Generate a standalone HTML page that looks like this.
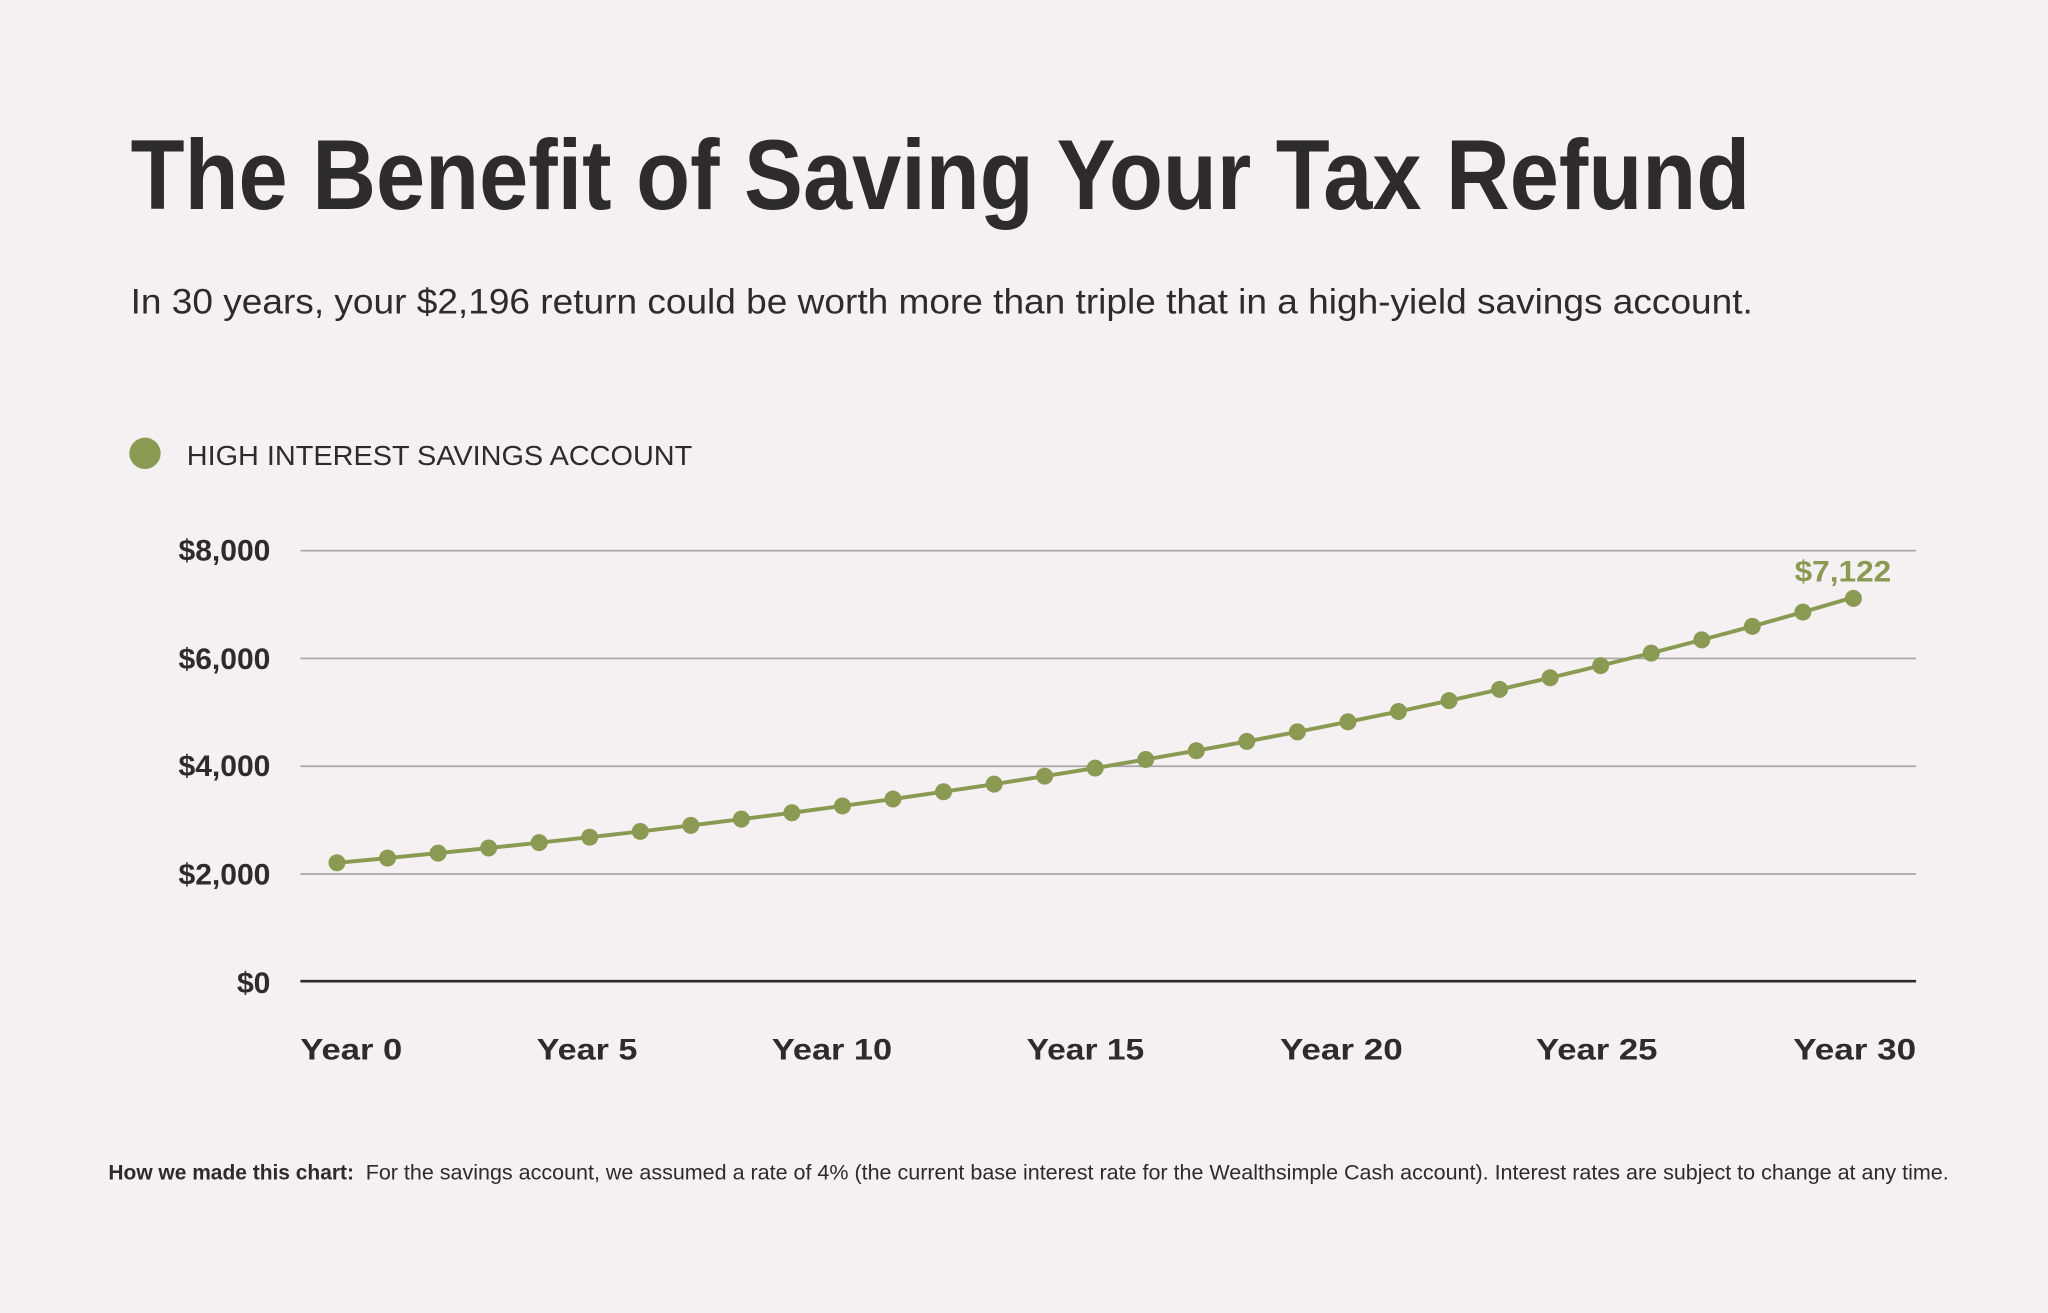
<!DOCTYPE html>
<html><head><meta charset="utf-8"><style>
html,body{margin:0;padding:0;background:#f5f0f1;}
svg{display:block;}
text{font-family:"Liberation Sans",sans-serif;}
</style></head><body>
<svg width="2048" height="1313" viewBox="0 0 1568 1005" preserveAspectRatio="none" xmlns="http://www.w3.org/2000/svg">
<rect width="1568" height="1005" fill="#f5f0f1"/>
<text x="100" y="160" font-size="76" font-weight="bold" fill="#2e2b2b" textLength="1240" lengthAdjust="spacingAndGlyphs">The Benefit of Saving Your Tax Refund</text>
<text x="100" y="240" font-size="27" fill="#2e2b2b" textLength="1242" lengthAdjust="spacingAndGlyphs">In 30 years, your $2,196 return could be worth more than triple that in a high-yield savings account.</text>
<circle cx="111" cy="347" r="12" fill="#8a9a52"/>
<text x="143" y="356" font-size="21" fill="#2e2b2b" textLength="387" lengthAdjust="spacingAndGlyphs">HIGH INTEREST SAVINGS ACCOUNT</text>
<g stroke="#a9a5a6" stroke-width="1.3">
<line x1="230" y1="421.5" x2="1467" y2="421.5"/>
<line x1="230" y1="504" x2="1467" y2="504"/>
<line x1="230" y1="586.5" x2="1467" y2="586.5"/>
<line x1="230" y1="669" x2="1467" y2="669"/>
</g>
<line x1="230" y1="751" x2="1467" y2="751" stroke="#2e2b2b" stroke-width="2"/>
<g font-size="23" font-weight="bold" fill="#2e2b2b" text-anchor="end">
<text x="207" y="429">$8,000</text>
<text x="207" y="512">$6,000</text>
<text x="207" y="594">$4,000</text>
<text x="207" y="677">$2,000</text>
<text x="207" y="760">$0</text>
</g>
<g font-size="23" font-weight="bold" fill="#2e2b2b">
<text x="230" y="811" textLength="78" lengthAdjust="spacingAndGlyphs">Year 0</text>
<text x="411" y="811" textLength="77" lengthAdjust="spacingAndGlyphs">Year 5</text>
<text x="591" y="811" textLength="92" lengthAdjust="spacingAndGlyphs">Year 10</text>
<text x="786" y="811" textLength="90" lengthAdjust="spacingAndGlyphs">Year 15</text>
<text x="980" y="811" textLength="94" lengthAdjust="spacingAndGlyphs">Year 20</text>
<text x="1176" y="811" textLength="93" lengthAdjust="spacingAndGlyphs">Year 25</text>
<text x="1373" y="811" textLength="94" lengthAdjust="spacingAndGlyphs">Year 30</text>
</g>
<text x="1374" y="445" font-size="23" font-weight="bold" fill="#8a9a52" textLength="74" lengthAdjust="spacingAndGlyphs">$7,122</text>
<polyline fill="none" stroke="#8a9a52" stroke-width="3" points="258,660.4 296.7,656.8 335.4,653 374.1,649.1 412.8,645 451.5,640.8 490.2,636.4 528.9,631.8 567.6,627 606.3,622.1 645,616.9 683.7,611.6 722.4,606 761.1,600.2 799.8,594.1 838.5,587.9 877.2,581.3 915.9,574.6 954.6,567.5 993.3,560.2 1032,552.5 1070.7,544.6 1109.4,536.3 1148.1,527.7 1186.8,518.8 1225.5,509.5 1264.2,499.9 1302.9,489.8 1341.6,479.4 1380.3,468.5 1419,457.2"/>
<g fill="#8a9a52">
<circle cx="258" cy="660.4" r="6.5"/><circle cx="296.7" cy="656.8" r="6.5"/><circle cx="335.4" cy="653" r="6.5"/><circle cx="374.1" cy="649.1" r="6.5"/><circle cx="412.8" cy="645" r="6.5"/><circle cx="451.5" cy="640.8" r="6.5"/><circle cx="490.2" cy="636.4" r="6.5"/><circle cx="528.9" cy="631.8" r="6.5"/><circle cx="567.6" cy="627" r="6.5"/><circle cx="606.3" cy="622.1" r="6.5"/><circle cx="645" cy="616.9" r="6.5"/><circle cx="683.7" cy="611.6" r="6.5"/><circle cx="722.4" cy="606" r="6.5"/><circle cx="761.1" cy="600.2" r="6.5"/><circle cx="799.8" cy="594.1" r="6.5"/><circle cx="838.5" cy="587.9" r="6.5"/><circle cx="877.2" cy="581.3" r="6.5"/><circle cx="915.9" cy="574.6" r="6.5"/><circle cx="954.6" cy="567.5" r="6.5"/><circle cx="993.3" cy="560.2" r="6.5"/><circle cx="1032" cy="552.5" r="6.5"/><circle cx="1070.7" cy="544.6" r="6.5"/><circle cx="1109.4" cy="536.3" r="6.5"/><circle cx="1148.1" cy="527.7" r="6.5"/><circle cx="1186.8" cy="518.8" r="6.5"/><circle cx="1225.5" cy="509.5" r="6.5"/><circle cx="1264.2" cy="499.9" r="6.5"/><circle cx="1302.9" cy="489.8" r="6.5"/><circle cx="1341.6" cy="479.4" r="6.5"/><circle cx="1380.3" cy="468.5" r="6.5"/><circle cx="1419" cy="458" r="6.5"/>
</g>
<text x="83" y="903" font-size="16" font-weight="bold" fill="#2e2b2b" textLength="188" lengthAdjust="spacingAndGlyphs">How we made this chart:</text>
<text x="280" y="903" font-size="16" fill="#2e2b2b" textLength="1212" lengthAdjust="spacingAndGlyphs">For the savings account, we assumed a rate of 4% (the current base interest rate for the Wealthsimple Cash account). Interest rates are subject to change at any time.</text>
</svg>
</body></html>
